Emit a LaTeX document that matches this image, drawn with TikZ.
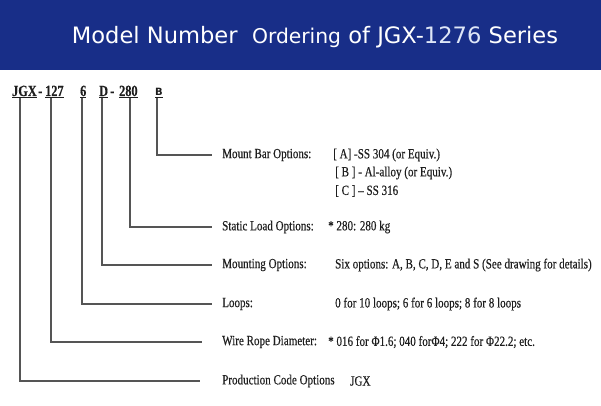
\documentclass[tikz,border=0pt]{standalone}
\usepackage{fontspec}
\setmainfont[FakeStretch=0.79,FakeBold=0.4]{Liberation Serif}
\newfontfamily\titlefont{DejaVu Sans}
\usetikzlibrary{positioning,calc}
\definecolor{BannerBlue}{RGB}{24,46,136}
\definecolor{PaleBlue}{RGB}{222,230,247}
\definecolor{LineGray}{RGB}{85,85,85}
\definecolor{TextDark}{RGB}{30,30,30}

\begin{document}
\begin{tikzpicture}[
  x=1pt, y=-1pt,
  code/.style={inner sep=0pt, anchor=base west, font=\fontsize{15.5}{17}\selectfont\bfseries, text=TextDark},
  lbl/.style={inner sep=0pt, anchor=west, font=\fontsize{14}{16}\selectfont, text=TextDark},
  lead/.style={draw=LineGray, line width=1.1pt}
]
\useasboundingbox (0,0) rectangle (601,406);
\fill[BannerBlue] (0,0) rectangle (601,70);
\node[font=\titlefont\fontsize{22.6}{26}\selectfont, text=white] (title) at (315,37)
  {Model Number\ \ {\fontsize{20.3}{26}\selectfont Ordering} of JGX-{\color{PaleBlue}1276} Series};

\node[code] (jgx)  at (12,96)  {\underline{JGX}};
\node[code] (dash1) at (38,96) {-};
\node[code] (n127) at (45,96)  {\underline{127}};
\node[code] (n6)   at (80,96)  {\underline{6}};
\node[code] (nD)   at (99,96)  {\underline{D}};
\node[code] (dash2) at (110,96) {-};
\node[code] (n280) at (119,96) {\underline{280}};
\node[code, font=\titlefont\fontsize{10}{12}\selectfont\bfseries] (nB) at (155,96) {\underline{B}};

\node[lbl] (mount)     at (222,155) {Mount Bar Options:};
\node[lbl] (mountA)    at (333,155) {[ A] -SS 304 (or Equiv.)};
\node[lbl] (mountB)    at (335,173) {[ B ] - Al-alloy (or Equiv.)};
\node[lbl] (mountC)    at (335,191) {[ C ] – SS 316};
\node[lbl] (static)    at (222,227) {Static Load Options:};
\node[lbl] (staticV)   at (328,227) {* 280: 280 kg};
\node[lbl] (mounting)  at (222,265) {Mounting Options:};
\node[lbl] (mountingV) at (335,265) {Six options: A, B, C, D, E and S (See drawing for details)};
\node[lbl] (loops)     at (222,304) {Loops:};
\node[lbl] (loopsV)    at (335,304) {0 for 10 loops; 6 for 6 loops; 8 for 8 loops};
\node[lbl] (wire)      at (222,342) {Wire Rope Diameter:};
\node[lbl] (wireV)     at (328,342) {* 016 for Φ1.6; 040 forΦ4; 222 for Φ22.2; etc.};
\node[lbl] (prod)      at (222,381) {Production Code Options};
\node[lbl] (prodV)     at (350,381) {JGX};

\draw[lead] ([xshift=2pt]nB.south west)    |- ([xshift=-10pt]mount.west);
\draw[lead] ([xshift=11pt]n280.south west) |- ([xshift=-10pt]static.west);
\draw[lead] ([xshift=3pt]nD.south west)    |- ([xshift=-10pt]mounting.west);
\draw[lead] ([xshift=2pt]n6.south west)    |- ([xshift=-10pt]loops.west);
\draw[lead] ([xshift=6pt]n127.south west)  |- ([xshift=-20pt]wire.west);
\draw[lead] ([xshift=8pt]jgx.south west)   |- ([xshift=-22pt]prod.west);
\end{tikzpicture}
\end{document}
